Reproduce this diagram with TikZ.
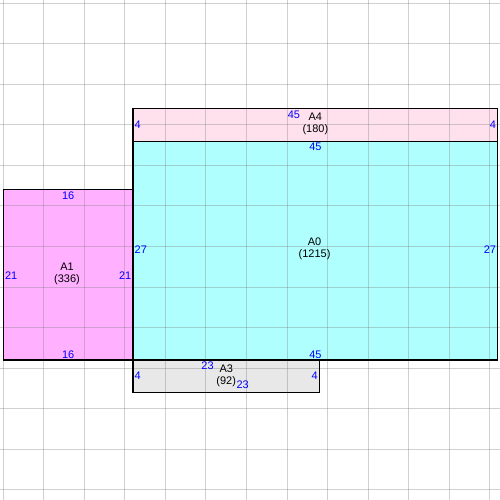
\documentclass[tikz,border=0pt]{standalone}
\usepackage{fontspec}
\setmainfont{Liberation Sans}
\usetikzlibrary{positioning}

\definecolor{gridgray}{RGB}{128,128,128}
\definecolor{cyanA}{RGB}{176,255,255}
\definecolor{pinkA}{RGB}{255,176,255}
\definecolor{roseA}{RGB}{255,225,238}
\definecolor{greyA}{RGB}{232,232,232}

\tikzset{
  gridline/.style={draw=gridgray, draw opacity=0.37, line width=0.7pt},
  part/.style={draw=black, line width=0.8pt},
  dim/.style={text=blue, inner sep=1pt, font=\fontsize{7.7}{8.8}\selectfont},
  areaname/.style={align=center, inner sep=0pt, font=\fontsize{7.7}{8.8}\selectfont},
}

\begin{document}
\begin{tikzpicture}[x=2mm, y=-2mm]
\useasboundingbox (-0.41,-0.41) rectangle (61.28,61.28);

% areas
\fill[roseA] (16,13) rectangle (61,17);
\fill[cyanA] (16,17) rectangle (61,44);
\fill[pinkA] (0,23) rectangle (16,44);
\fill[greyA] (16,44) rectangle (39,48);

% grid
\foreach \k in {0,5,...,60} {
  \draw[gridline] (\k,-0.41) -- (\k,61.28);
  \draw[gridline] (-0.41,\k) -- (61.28,\k);
}

% outlines
\draw[part] (16,13) rectangle (61,17);
\draw[part] (16,17) rectangle (61,44);
\draw[part] (0,23) rectangle (16,44);
\draw[part] (16,44) rectangle (39,48);

% A4
\node[areaname] (a4name) at (38.5,14.85) {A4\\(180)};
\node[dim] (a4top) at (35.85,13.8) {45};
\node[dim, right] (a4left) at (16,15) {4};
\node[dim, left] (a4right) at (61,15) {4};

% A0
\node[areaname] (a0name) at (38.4,30.3) {A0\\(1215)};
\node[dim, below] (a0top) at (38.5,17) {45};
\node[dim, above] (a0bot) at (38.5,44) {45};
\node[dim, right] (a0left) at (16,30.45) {27};
\node[dim, left] (a0right) at (61,30.45) {27};

% A1
\node[areaname] (a1name) at (7.86,33.36) {A1\\(336)};
\node[dim, below] (a1top) at (8,23) {16};
\node[dim, above] (a1bot) at (8,44) {16};
\node[dim, right] (a1left) at (0,33.6) {21};
\node[dim, left] (a1right) at (16,33.6) {21};

% A3
\node[areaname] (a3name) at (27.5,45.95) {A3\\(92)};
\node[dim] (a3top) at (25.2,44.75) {23};
\node[dim] (a3bot) at (29.54,47.0) {23};
\node[dim, right] (a3left) at (16,46) {4};
\node[dim, left] (a3right) at (39,46) {4};
\end{tikzpicture}
\end{document}
